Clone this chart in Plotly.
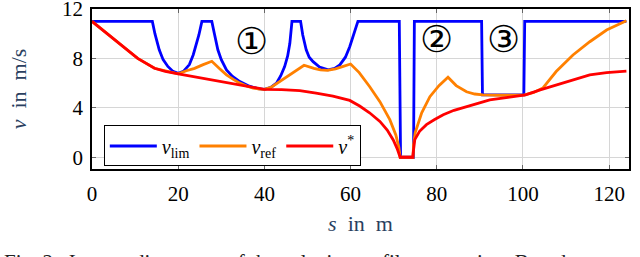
import plotly.graph_objects as go

# ---- data ----
s_lim = [0, 14, 14.6, 15.6, 16.5, 17.6, 18.8, 20, 21.2, 22.6, 23.5, 24.1, 24.8, 25.5,
         27.8, 28.4, 29.2, 30.0, 31.2, 32.6, 34.3, 36.5, 38.5, 40, 41.5, 42.8, 43.8, 44.7, 45.4, 45.9, 46.4,
         48.4, 48.9, 49.7, 50.4, 51.3, 52.8, 54.8, 56.3, 57.5, 58.8, 59.8, 60.5, 61.0, 61.7,
         71.3, 71.6, 74.6, 74.8, 90.4, 90.6, 100.2, 100.4, 124]
v_lim = [11, 11, 10.0, 8.7, 7.9, 7.35, 6.95, 6.8, 6.95, 7.5, 8.3, 8.95, 9.9, 11,
         11, 10.0, 8.7, 7.9, 7.07, 6.55, 6.13, 5.75, 5.55, 5.5, 5.65, 6.0, 6.6, 7.34, 8.2, 9.2, 11,
         11, 9.9, 8.7, 8.1, 7.74, 7.3, 7.07, 7.2, 7.48, 8.1, 8.95, 9.7, 10.3, 11,
         11, 0, 0, 11, 11, 5.05, 5.05, 11, 11]

s_ref = [0, 3.6, 6.7, 10.6, 14.5, 20, 21.9, 23.8, 25.8, 27.8, 29.5, 31.2, 32.8, 34.3, 36.0, 37.4, 38.8,
         40, 41.5, 42.8, 44.3, 46.5, 49.2, 51.5, 53.0, 54.6, 56.5, 58.3, 60.0, 62.0, 64.4, 66.8, 69.1,
         70.5, 71.2, 71.5, 74.5, 74.6, 75.0, 76.5, 78.4, 80.5, 82.6, 84.5, 86.9, 88.8, 90.7, 95, 100.4,
         102.5, 104.6, 107.7, 111.6, 115.5, 119.4, 124]
v_ref = [11, 10.0, 9.1, 8.0, 7.2, 6.75, 7.0, 7.2, 7.5, 7.77, 7.2, 6.67, 6.3, 6.0, 5.75, 5.6, 5.52,
         5.5, 5.65, 5.95, 6.3, 6.85, 7.45, 7.2, 7.07, 7.03, 7.15, 7.35, 7.55, 6.85, 5.73, 4.5, 3.04,
         1.8, 0.8, 0, 0, 1.0, 2.0, 3.6, 4.9, 5.8, 6.48, 5.8, 5.3, 5.12, 5.05, 5.02, 5.05,
         5.25, 5.6, 6.94, 8.28, 9.35, 10.3, 11.05]

s_opt = [0, 3.6, 6.7, 10.6, 14.5, 17.0, 20, 23.0, 26.1, 29.6, 33.0, 36.5, 40, 44.0, 48.2, 52.0, 55.9,
         59.8, 62.1, 64.4, 66.8, 68.5, 69.9, 70.8, 71.5, 74.4, 74.9, 76.0, 77.6, 79.5, 81.5, 84.0, 86.9,
         89.5, 92.3, 96.5, 100.6, 104.0, 107.7, 111.6, 115.5, 119.4, 124]
v_opt = [11, 10.0, 9.1, 8.0, 7.2, 6.95, 6.75, 6.57, 6.38, 6.15, 5.95, 5.72, 5.5, 5.47, 5.4, 5.2, 4.95,
         4.6, 4.15, 3.6, 2.9, 2.2, 1.4, 0.7, 0, 0, 1.43, 2.1, 2.64, 3.05, 3.44, 3.8, 4.11,
         4.4, 4.65, 4.85, 5.05, 5.45, 5.86, 6.3, 6.67, 6.85, 6.97]

x_ticks = [0, 20, 40, 60, 80, 100, 120]
y_ticks = [0, 4, 8, 12]

labels = [("①", 37.0, 9.35), ("②", 79.9, 9.5), ("③", 95.5, 9.5)]

SERIF = "Liberation Serif"

fig = go.Figure()
fig.add_trace(go.Scatter(x=s_lim, y=v_lim, mode="lines", name="<i>v</i><sub>lim</sub>",
                         line=dict(color="#0000FF", width=2.8)))
fig.add_trace(go.Scatter(x=s_ref, y=v_ref, mode="lines", name="<i>v</i><sub>ref</sub>",
                         line=dict(color="#FF8000", width=2.8)))
fig.add_trace(go.Scatter(x=s_opt, y=v_opt, mode="lines", name="<i>v</i><sup>*</sup>",
                         line=dict(color="#FF0000", width=2.8)))

for txt, xs, ys in labels:
    fig.add_annotation(x=xs, y=ys, text=txt, showarrow=False,
                       font=dict(family="DejaVu Sans", size=37, color="black"))

fig.add_annotation(xref="paper", yref="paper", x=-0.168, y=-0.492, xanchor="left", yanchor="top",
                   text="Fig. 2.  Intermediate steps of the velocity profile generation: Based on <i>v</i><sub>lim</sub>, an",
                   showarrow=False, font=dict(family=SERIF, size=21, color="#222"))

axis_common = dict(showline=True, linecolor="black", linewidth=1.5, mirror="ticks",
                   ticks="inside", ticklen=4, tickcolor="#666", tickwidth=1,
                   showgrid=True, gridcolor="#d6d6d6", gridwidth=1, zeroline=False,
                   automargin=False, ticklabeloverflow="allow",
                   tickfont=dict(family=SERIF, size=21, color="black"))

fig.update_xaxes(range=[0, 124.6], tickvals=x_ticks, ticklabelstandoff=5,
                 title=dict(text="<i>s</i>  in  m", font=dict(family=SERIF, size=22), standoff=11),
                 **axis_common)
fig.update_yaxes(range=[-0.95, 12], tickvals=y_ticks, ticklabelstandoff=3,
                 title=dict(text="<i>v</i>  in  m/s", font=dict(family=SERIF, size=22), standoff=29),
                 **axis_common)

fig.update_layout(
    width=640, height=257,
    margin=dict(l=92, r=11, t=9, b=88),
    plot_bgcolor="white", paper_bgcolor="white",
    showlegend=True,
    legend=dict(orientation="h", x=0.022, y=0.272, xanchor="left", yanchor="top",
                bgcolor="white", bordercolor="black", borderwidth=1,
                font=dict(family=SERIF, size=20, color="black"),
                itemwidth=47, tracegroupgap=0),
)

fig.write_html("out.html", config={"displayModeBar": False},
               post_script="document.body.style.margin='0';document.body.style.padding='0';document.body.style.overflow='hidden';")
